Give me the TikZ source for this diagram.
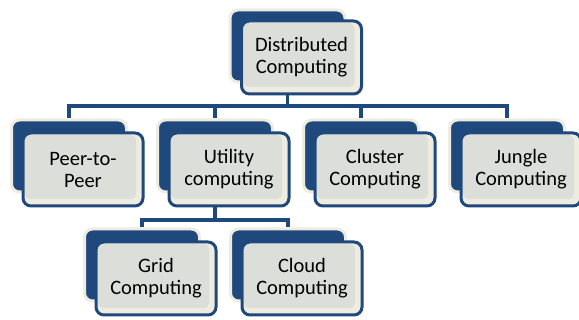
\documentclass[tikz,border=0pt]{standalone}
\usepackage{fontspec}
\setmainfont{Carlito}
\usepackage{tikz}
\usetikzlibrary{positioning,backgrounds}
\definecolor{boxblue}{RGB}{31,73,125}
\definecolor{boxcream}{RGB}{238,236,224}
\definecolor{boxgray}{RGB}{220,222,217}

\begin{document}
\begin{tikzpicture}[x=1pt,y=-1pt,node distance=28pt]
			\tikzstyle{back box}=[draw=boxcream,fill=boxblue,line width=3pt,rounded corners=8pt,minimum width=115pt,minimum height=72pt,inner sep=0pt]
			\tikzstyle{front box}=[draw=boxblue,fill=boxcream,line width=3pt,rounded corners=8pt,minimum width=120pt,minimum height=73pt,inner sep=0pt,align=center,text=black,font=\fontsize{20.5}{22}\selectfont,
				path picture={\fill[boxgray,rounded corners=5pt] ([shift={(2pt,-2pt)}]path picture bounding box.north west) rectangle ([shift={(-7pt,7pt)}]path picture bounding box.south east);}]
			\tikzstyle{link}=[draw=boxblue,line width=3.5pt]
			
			\useasboundingbox (0,0) rectangle (579,320);
			
			% top
			\node[back box]    (dist-b) at (287.5,46)            {};
			\node[front box, xshift=14pt, yshift=-11.5pt]    (dist) at (dist-b)   {Distributed\\Computing};
			
			% second row
			\node[back box]    (peer-b) at (69,156)              {};
			\node[front box, xshift=14pt, yshift=-13.5pt]    (peer) at (peer-b)   {Peer-to-\\Peer};
			
			\node[back box]    (util-b)[right=of peer-b]         {};
			\node[front box, xshift=14pt, yshift=-13.5pt]    (util) at (util-b)   {Utility\\computing};
			
			\node[back box]    (clus-b)[right=of util-b]         {};
			\node[front box, xshift=14pt, yshift=-13.5pt]    (clus) at (clus-b)   {Cluster\\Computing};
			
			\node[back box]    (jung-b)[right=of clus-b]         {};
			\node[front box, xshift=14pt, yshift=-13.5pt]    (jung) at (jung-b)   {Jungle\\Computing};
			
			% third row
			\node[back box]    (grid-b) at (142,265)             {};
			\node[front box, xshift=14pt, yshift=-13.5pt]    (grid) at (grid-b)   {Grid\\Computing};
			
			\node[back box]    (cloud-b)[right=of grid-b]        {};
			\node[front box, xshift=14pt, yshift=-13.5pt]    (cloud) at (cloud-b) {Cloud\\Computing};
			
			\coordinate (bus1) at (0,106);
			\coordinate (bus2) at (0,220);
			
			\begin{scope}[on background layer]
			\draw[link] (dist-b) -- (dist-b |- bus1) -| (peer-b);
			\draw[link] (dist-b |- bus1) -| (util-b);
			\draw[link] (dist-b |- bus1) -| (clus-b);
			\draw[link] (dist-b |- bus1) -| (jung-b);
			
			\draw[link] (util-b) -- (util-b |- bus2) -| (grid-b);
			\draw[link] (util-b |- bus2) -| (cloud-b);
			\end{scope}
			\end{tikzpicture}
\end{document}
